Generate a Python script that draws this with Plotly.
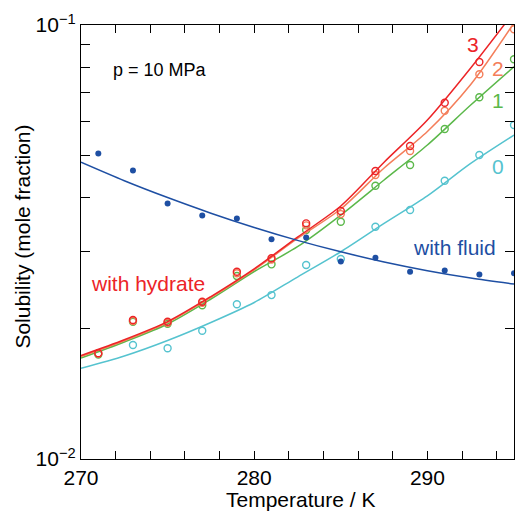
import plotly.graph_objects as go

# Measured points (K)
T_pts = [271, 273, 275, 277, 279, 281, 283, 285, 287, 289, 291, 293, 295]
fluid_pts = [0.0506, 0.0462, 0.0388, 0.0364, 0.0358, 0.0321, 0.0324, 0.0285, 0.0291, 0.0270, 0.0272, 0.0266, 0.0268]
hyd3_pts = [0.01752, 0.02090, 0.02072, 0.02304, 0.02701, 0.02900, 0.03491, 0.03727, 0.04609, 0.05262, 0.06622, 0.08217, None]
hyd2_pts = [0.01750, 0.02080, 0.02060, 0.02290, 0.02680, 0.02880, 0.03454, 0.03667, 0.04513, 0.05125, 0.06346, 0.07700, 0.09775]
hyd1_pts = [0.01740, 0.02070, 0.02050, 0.02260, 0.02640, 0.02809, 0.03370, 0.03522, 0.04263, 0.04759, 0.05760, 0.06817, 0.08337]
hyd0_pts = [None, 0.01831, 0.01799, 0.01975, 0.02272, 0.02386, 0.02799, 0.02889, 0.03430, 0.03748, 0.04377, 0.05017, 0.05882]

# Model curves
T_fit = [270, 272.5, 275, 277.5, 280, 282.5, 285, 287.5, 290, 292.5, 295]
fluid_fit = [0.04828, 0.04377, 0.04003, 0.03685, 0.03416, 0.03190, 0.03002, 0.02844, 0.02716, 0.02612, 0.02530]
hyd3_fit = [0.01732, 0.01883, 0.02073, 0.02368, 0.02743, 0.03244, 0.03827, 0.04830, 0.06040, 0.07961, 0.10715]
hyd2_fit = [0.01723, 0.01873, 0.02063, 0.02356, 0.02729, 0.03222, 0.03767, 0.04683, 0.05683, 0.07292, 0.1011]
hyd1_fit = [0.01709, 0.01861, 0.02047, 0.02337, 0.02704, 0.03084, 0.03648, 0.04394, 0.05290, 0.06540, 0.08016]
hyd0_fit = [0.01618, 0.01727, 0.01875, 0.02063, 0.02294, 0.02626, 0.03003, 0.03491, 0.04041, 0.04799, 0.05578]

x_ticks = [270, 272, 274, 276, 278, 280, 282, 284, 286, 288, 290, 292, 294]
x_labels = ["270", "", "", "", "", "280", "", "", "", "", "290", "", ""]
y_ticks = [0.01, 0.02, 0.03, 0.04, 0.05, 0.06, 0.07, 0.08, 0.09, 0.1]
y_labels = ["10<sup>−2</sup>", "", "", "", "", "", "", "", "", "10<sup>−1</sup>"]

C_RED = "#EC2427"
C_ORANGE = "#F47E5A"
C_GREEN = "#5BB84A"
C_CYAN = "#55C3CF"
C_BLUE = "#1E4FA3"

FONT = "Liberation Sans, Arial, Helvetica, sans-serif"

fig = go.Figure()

for fit, pts, col in [(hyd0_fit, hyd0_pts, C_CYAN), (hyd1_fit, hyd1_pts, C_GREEN),
                      (hyd2_fit, hyd2_pts, C_ORANGE), (hyd3_fit, hyd3_pts, C_RED)]:
    fig.add_trace(go.Scatter(x=T_fit, y=fit, mode="lines",
                             line=dict(color=col, width=1.5, shape="spline", smoothing=0.8),
                             showlegend=False, hoverinfo="skip"))
    fig.add_trace(go.Scatter(x=T_pts, y=pts, mode="markers",
                             marker=dict(symbol="circle-open", size=7, color=col,
                                         line=dict(width=1.4, color=col)),
                             showlegend=False))

fig.add_trace(go.Scatter(x=T_fit, y=fluid_fit, mode="lines",
                         line=dict(color=C_BLUE, width=1.5, shape="spline", smoothing=0.8),
                         showlegend=False, hoverinfo="skip"))
fig.add_trace(go.Scatter(x=T_pts, y=fluid_pts, mode="markers",
                         marker=dict(symbol="circle", size=6, color=C_BLUE),
                         showlegend=False))

ann = [
    dict(text="p = 10 MPa", x=0.1824, y=0.897, color="black", size=18),
    dict(text="with hydrate", x=0.1547, y=0.404, color=C_RED, size=21),
    dict(text="with fluid", x=0.8637, y=0.488, color=C_BLUE, size=21),
    dict(text="3", x=0.905, y=0.956, color=C_RED, size=21),
    dict(text="2", x=0.963, y=0.899, color=C_ORANGE, size=21),
    dict(text="1", x=0.963, y=0.827, color=C_GREEN, size=21),
    dict(text="0", x=0.963, y=0.673, color=C_CYAN, size=21),
]
for a in ann:
    fig.add_annotation(text=a["text"], x=a["x"], y=a["y"], xref="paper", yref="paper",
                       showarrow=False, xanchor="center", yanchor="middle",
                       font=dict(family=FONT, size=a["size"], color=a["color"]))

fig.add_annotation(text="Temperature / K", x=0.5058, y=-0.094, xref="paper", yref="paper",
                   showarrow=False, xanchor="center", yanchor="middle",
                   font=dict(family=FONT, size=21, color="black"))
fig.add_annotation(text="Solubility (mole fraction)", x=-0.136, y=0.5127, xref="paper", yref="paper",
                   showarrow=False, xanchor="center", yanchor="middle", textangle=-90,
                   font=dict(family=FONT, size=21, color="black"))

fig.update_xaxes(range=[270, 295], tickmode="array", tickvals=x_ticks, ticktext=x_labels,
                 ticks="inside", ticklen=8, tickwidth=1, tickcolor="black",
                 showline=True, linecolor="black", linewidth=1.2, mirror="ticks",
                 showgrid=False, zeroline=False,
                 tickfont=dict(family=FONT, size=21, color="black"))
fig.update_yaxes(type="log", range=[-2, -1], tickmode="array", tickvals=y_ticks, ticktext=y_labels,
                 ticks="inside", ticklen=9, tickwidth=1, tickcolor="black",
                 showline=True, linecolor="black", linewidth=1.2, mirror="ticks",
                 showgrid=False, zeroline=False,
                 tickfont=dict(family=FONT, size=21, color="black"))

fig.update_layout(width=515, height=511, margin=dict(l=81, r=1, t=25, b=52),
                  plot_bgcolor="white", paper_bgcolor="white", showlegend=False,
                  font=dict(family=FONT))

fig.write_html("out.html")
